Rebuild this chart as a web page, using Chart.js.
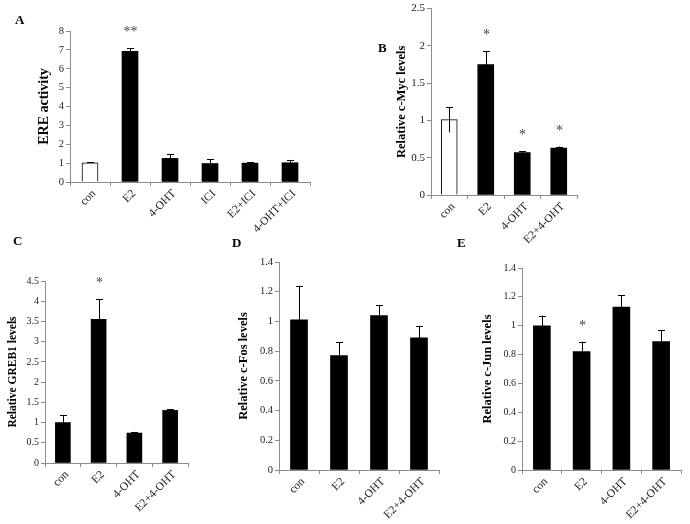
<!DOCTYPE html>
<html>
<head>
<meta charset="utf-8">
<script src="https://cdn.jsdelivr.net/npm/chart.js@4.4.1/dist/chart.umd.min.js"></script>
<style>
  body { margin: 0; background: #fff; }
  #wrap { position: relative; width: 690px; height: 524px; overflow: hidden; background: #fff; }
  canvas { position: absolute; }
  .lbl { position: absolute; font: bold 13px "Liberation Serif", "Times New Roman", serif; color: #000; }
</style>
</head>
<body>
<div id="wrap">
  <canvas id="chartA" width="330" height="245" style="left:0;top:0"></canvas>
  <canvas id="chartB" width="320" height="250" style="left:370px;top:0"></canvas>
  <canvas id="chartC" width="230" height="274" style="left:0;top:250px"></canvas>
  <canvas id="chartD" width="220" height="274" style="left:230px;top:250px"></canvas>
  <canvas id="chartE" width="240" height="274" style="left:450px;top:250px"></canvas>
  <div class="lbl" style="left:15px;top:12px">A</div>
  <div class="lbl" style="left:378px;top:40px">B</div>
  <div class="lbl" style="left:13px;top:233px">C</div>
  <div class="lbl" style="left:232px;top:235px">D</div>
  <div class="lbl" style="left:457px;top:235px">E</div>
</div>
<script>
// panel A - ERE activity
const catsA = ['con', 'E2', '4-OHT', 'ICI', 'E2+ICI', '4-OHT+ICI']
const valsA = [1.02, 6.92, 1.25, 0.98, 1.0, 1.02]
const errA = [0.02, 0.17, 0.22, 0.22, 0.04, 0.15]
const starsA = ['', '**', '', '', '', '']
const ticksA = [0, 1, 2, 3, 4, 5, 6, 7, 8]

// panel B - c-Myc
const catsB = ['con', 'E2', '4-OHT', 'E2+4-OHT']
const valsB = [1.01, 1.75, 0.57, 0.63]
const errB = [0.17, 0.18, 0.02, 0.02]
const starsB = ['', '*', '*', '*']
const ticksB = [0, 0.5, 1, 1.5, 2, 2.5]

// panel C - GREB1
const catsC = ['con', 'E2', '4-OHT', 'E2+4-OHT']
const valsC = [1.0, 3.55, 0.74, 1.30]
const errC = [0.19, 0.50, 0.03, 0.03]
const starsC = ['', '*', '', '']
const ticksC = [0, 0.5, 1, 1.5, 2, 2.5, 3, 3.5, 4, 4.5]

// panel D - c-Fos
const catsD = ['con', 'E2', '4-OHT', 'E2+4-OHT']
const valsD = [1.01, 0.77, 1.04, 0.89]
const errD = [0.23, 0.09, 0.07, 0.08]
const starsD = ['', '', '', '']
const ticksD = [0, 0.2, 0.4, 0.6, 0.8, 1, 1.2, 1.4]

// panel E - c-Jun
const catsE = ['con', 'E2', '4-OHT', 'E2+4-OHT']
const valsE = [1.0, 0.82, 1.13, 0.89]
const errE = [0.07, 0.07, 0.08, 0.08]
const starsE = ['', '*', '', '']
const ticksE = [0, 0.2, 0.4, 0.6, 0.8, 1, 1.2, 1.4]

const SERIF = '"Liberation Serif", "Times New Roman", serif'
const AXIS = '#8c8c8c'

// error bars and significance stars, drawn from the chart's own scales
const errorBars = {
  id: 'errorBars',
  afterDatasetsDraw (chart, args, opts) {
    const { ctx, scales: { y } } = chart
    const meta = chart.getDatasetMeta(0)
    ctx.save()
    ctx.strokeStyle = '#000'
    ctx.lineWidth = 1
    meta.data.forEach((bar, i) => {
      const v = opts.values[i]
      const e = opts.errors[i]
      const cx = Math.round(bar.x) + 0.5
      const top = y.getPixelForValue(v + e)
      const bot = y.getPixelForValue(v - e)
      ctx.beginPath()
      ctx.moveTo(cx, top)
      ctx.lineTo(cx, bot)
      ctx.moveTo(cx - 3.5, Math.round(top) + 0.5)
      ctx.lineTo(cx + 3.5, Math.round(top) + 0.5)
      ctx.stroke()
      const s = opts.stars[i]
      if (s) {
        ctx.fillStyle = '#444'
        ctx.font = '14px ' + SERIF
        ctx.textAlign = 'center'
        ctx.textBaseline = 'alphabetic'
        ctx.fillText(s, cx, top - 20 + 8)
      }
    })
    ctx.restore()
  }
}

function makePanel (id, p) {
  return new Chart(id, {
    type: 'bar',
    data: {
      labels: p.cats,
      datasets: [{
        data: p.vals,
        backgroundColor: p.fills,
        borderColor: '#000',
        borderWidth: p.fills.map(f => (f === '#fff' ? 1 : 0)),
        barThickness: p.barW
      }]
    },
    plugins: [errorBars],
    options: {
      responsive: false,
      animation: false,
      devicePixelRatio: 1,
      layout: { padding: p.pad },
      plugins: {
        legend: { display: false },
        tooltip: { enabled: false },
        errorBars: { values: p.vals, errors: p.errs, stars: p.stars }
      },
      scales: {
        x: {
          afterFit: scale => { scale.height = p.xH },
          grid: { display: true, drawOnChartArea: false, color: AXIS, tickLength: 4 },
          border: { color: AXIS },
          ticks: {
            color: '#222',
            font: { family: SERIF, size: 11.5 },
            minRotation: 45,
            maxRotation: 45,
            labelOffset: 4,
            padding: 1
          }
        },
        y: {
          min: p.ticks[0],
          max: p.ticks[p.ticks.length - 1],
          afterFit: scale => { scale.width = p.yW },
          afterBuildTicks: scale => { scale.ticks = p.ticks.map(v => ({ value: v })) },
          grid: { display: true, drawOnChartArea: false, color: AXIS, tickLength: 4 },
          border: { color: AXIS },
          ticks: {
            color: '#222',
            font: { family: SERIF, size: p.tickSize },
            padding: 2,
            callback: v => String(+v.toFixed(2))
          },
          title: {
            display: true,
            text: p.title,
            color: '#000',
            font: { family: SERIF, size: p.titleSize, weight: 'bold' },
            padding: { top: 4, bottom: 4 }
          }
        }
      }
    }
  })
}

const white = '#fff'
const black = '#000'

makePanel('chartA', {
  cats: catsA, vals: valsA, errs: errA, stars: starsA, ticks: ticksA,
  fills: [white, black, black, black, black, black],
  title: 'ERE activity', titleSize: 14, barW: 16, tickSize: 10.5,
  pad: { left: 32, top: 31, right: 20, bottom: 0 }, yW: 38, xH: 63
})

makePanel('chartB', {
  cats: catsB, vals: valsB, errs: errB, stars: starsB, ticks: ticksB,
  fills: [white, black, black, black],
  title: 'Relative c-Myc levels', titleSize: 12.5, barW: 16, tickSize: 11,
  pad: { left: 20, top: 6, right: 113, bottom: 0 }, yW: 41, xH: 55
})

makePanel('chartC', {
  cats: catsC, vals: valsC, errs: errC, stars: starsC, ticks: ticksC,
  fills: [black, black, black, black],
  title: 'Relative GREB1 levels', titleSize: 11.5, barW: 15, tickSize: 10,
  pad: { left: 2, top: 31, right: 42, bottom: 0 }, yW: 43, xH: 61
})

makePanel('chartD', {
  cats: catsD, vals: valsD, errs: errD, stars: starsD, ticks: ticksD,
  fills: [black, black, black, black],
  title: 'Relative c-Fos levels', titleSize: 12.5, barW: 17, tickSize: 10.5,
  pad: { left: 2, top: 12, right: 11, bottom: 0 }, yW: 47, xH: 54
})

makePanel('chartE', {
  cats: catsE, vals: valsE, errs: errE, stars: starsE, ticks: ticksE,
  fills: [black, black, black, black],
  title: 'Relative c-Jun levels', titleSize: 12.5, barW: 17, tickSize: 10,
  pad: { left: 26, top: 18, right: 9, bottom: 0 }, yW: 46, xH: 54
})
</script>
</body>
</html>
